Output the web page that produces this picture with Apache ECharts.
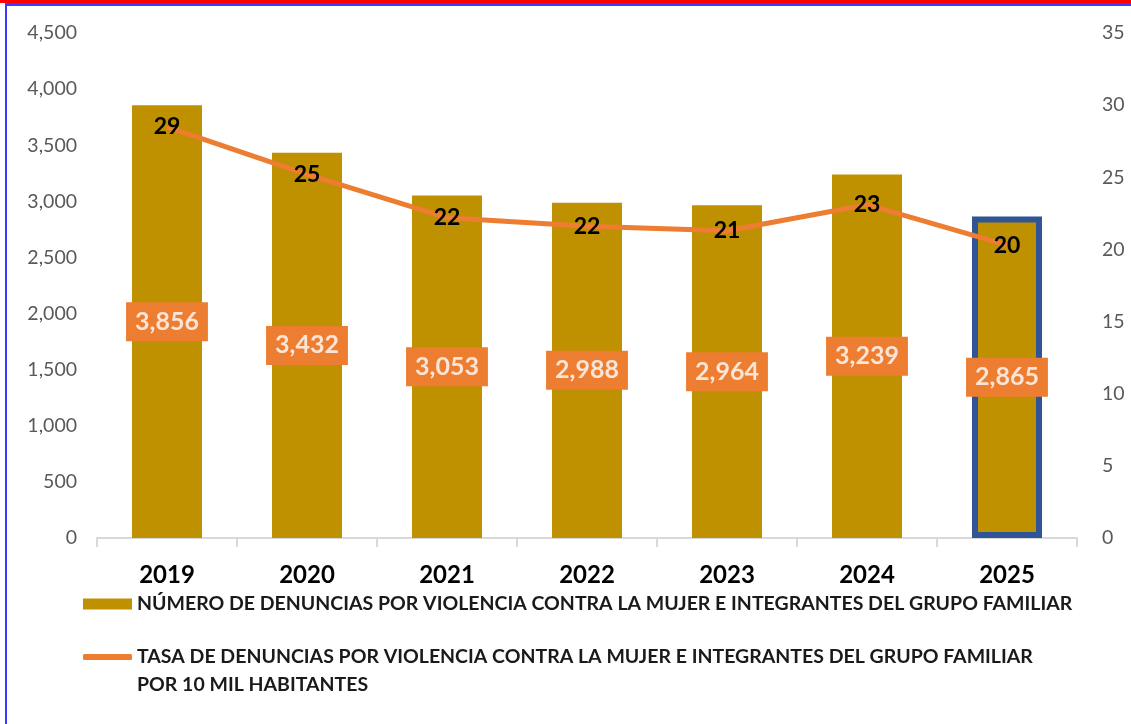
<!DOCTYPE html>
<html><head><meta charset="utf-8">
<script src="https://cdn.jsdelivr.net/npm/echarts@6/dist/echarts.min.js"></script>
<style>html,body{margin:0;padding:0;background:#fff}#c{width:1131px;height:724px}</style>
</head><body><div id="c"></div>
<script>
const categories = ['2019','2020','2021','2022','2023','2024','2025'];
const denuncias = [3856, 3432, 3053, 2988, 2964, 3239, 2865];
const tasa = [28.5, 25.2, 22.2, 21.6, 21.3, 23.1, 20.3];
const barName = 'NÚMERO DE DENUNCIAS POR VIOLENCIA CONTRA LA MUJER E INTEGRANTES DEL GRUPO FAMILIAR';
const lineName = 'TASA DE DENUNCIAS POR VIOLENCIA CONTRA LA MUJER E INTEGRANTES DEL GRUPO FAMILIAR';
const lineName2 = 'POR 10 MIL HABITANTES';
const FONT = 'Lato';
const LEG = { fontFamily: FONT, fontWeight: 'bold', fontSize: 19.5, color: '#1a1a1a' };

const chart = echarts.init(document.getElementById('c'));
const barData = denuncias.map((v, i) => i === denuncias.length - 1
  ? { value: v, itemStyle: { borderColor: '#2F5597', borderWidth: 6 } }
  : v);
chart.setOption({
  animation: false,
  textStyle: { fontFamily: FONT },
  grid: { left: 97, right: 54, top: 33, bottom: 186 },
  graphic: [
    { type: 'rect', shape: { x: 0, y: 0, width: 1131, height: 3 }, style: { fill: '#FF0000' } },
    { type: 'rect', shape: { x: 5, y: 3, width: 1126, height: 3 }, style: { fill: '#3B3BFF' } },
    { type: 'rect', shape: { x: 5, y: 3, width: 2, height: 721 }, style: { fill: '#3B3BFF' } },
    { type: 'text', left: 137, top: 675, style: {
        text: lineName2, fontFamily: FONT, fontWeight: 'bold', fontSize: 19.5, fill: '#1a1a1a' } }
  ],
  legend: [
    { data: [barName], orient: 'vertical', left: 83, top: 594, padding: 0, itemWidth: 49, itemHeight: 11,
      icon: 'rect', textStyle: LEG },
    { data: [lineName], orient: 'vertical', left: 83, top: 647, padding: 0, itemWidth: 49, itemHeight: 6,
      icon: 'roundRect', textStyle: LEG }
  ],
  xAxis: {
    type: 'category', data: categories,
    axisLine: { lineStyle: { color: '#D9D9D9', width: 2 } },
    axisTick: { show: true, length: 9, lineStyle: { color: '#D9D9D9', width: 2 } },
    axisLabel: { color: '#000', fontWeight: 'bold', fontSize: 24, margin: 25, fontFamily: FONT }
  },
  yAxis: [
    { type: 'value', min: 0, max: 4500, interval: 500, splitLine: { show: false },
      axisLabel: { color: '#595959', fontSize: 19.5, margin: 20, fontFamily: FONT,
        formatter: v => v.toLocaleString('en-US') } },
    { type: 'value', min: 0, max: 35, interval: 5, splitLine: { show: false },
      axisLabel: { color: '#595959', fontSize: 19.5, margin: 25, fontFamily: FONT } }
  ],
  series: [
    { name: barName, type: 'bar', data: barData, barWidth: '50%', yAxisIndex: 0,
      itemStyle: { color: '#BF9000' },
      label: { show: true, position: 'inside', fontFamily: FONT, fontWeight: 'bold', fontSize: 25,
        color: '#FBE5D6', backgroundColor: '#ED7D31', padding: [8, 9, 6, 9],
        formatter: p => p.value.toLocaleString('en-US') } },
    { name: lineName, type: 'line', data: tasa, yAxisIndex: 1, symbol: 'circle', symbolSize: 1, showSymbol: true,
      lineStyle: { color: '#ED7D31', width: 5 }, itemStyle: { color: '#ED7D31' },
      label: { show: true, position: 'inside', fontFamily: FONT, fontWeight: 'bold', fontSize: 23, color: '#000',
        formatter: p => Math.round(p.value) } }
  ]
});
</script></body></html>
